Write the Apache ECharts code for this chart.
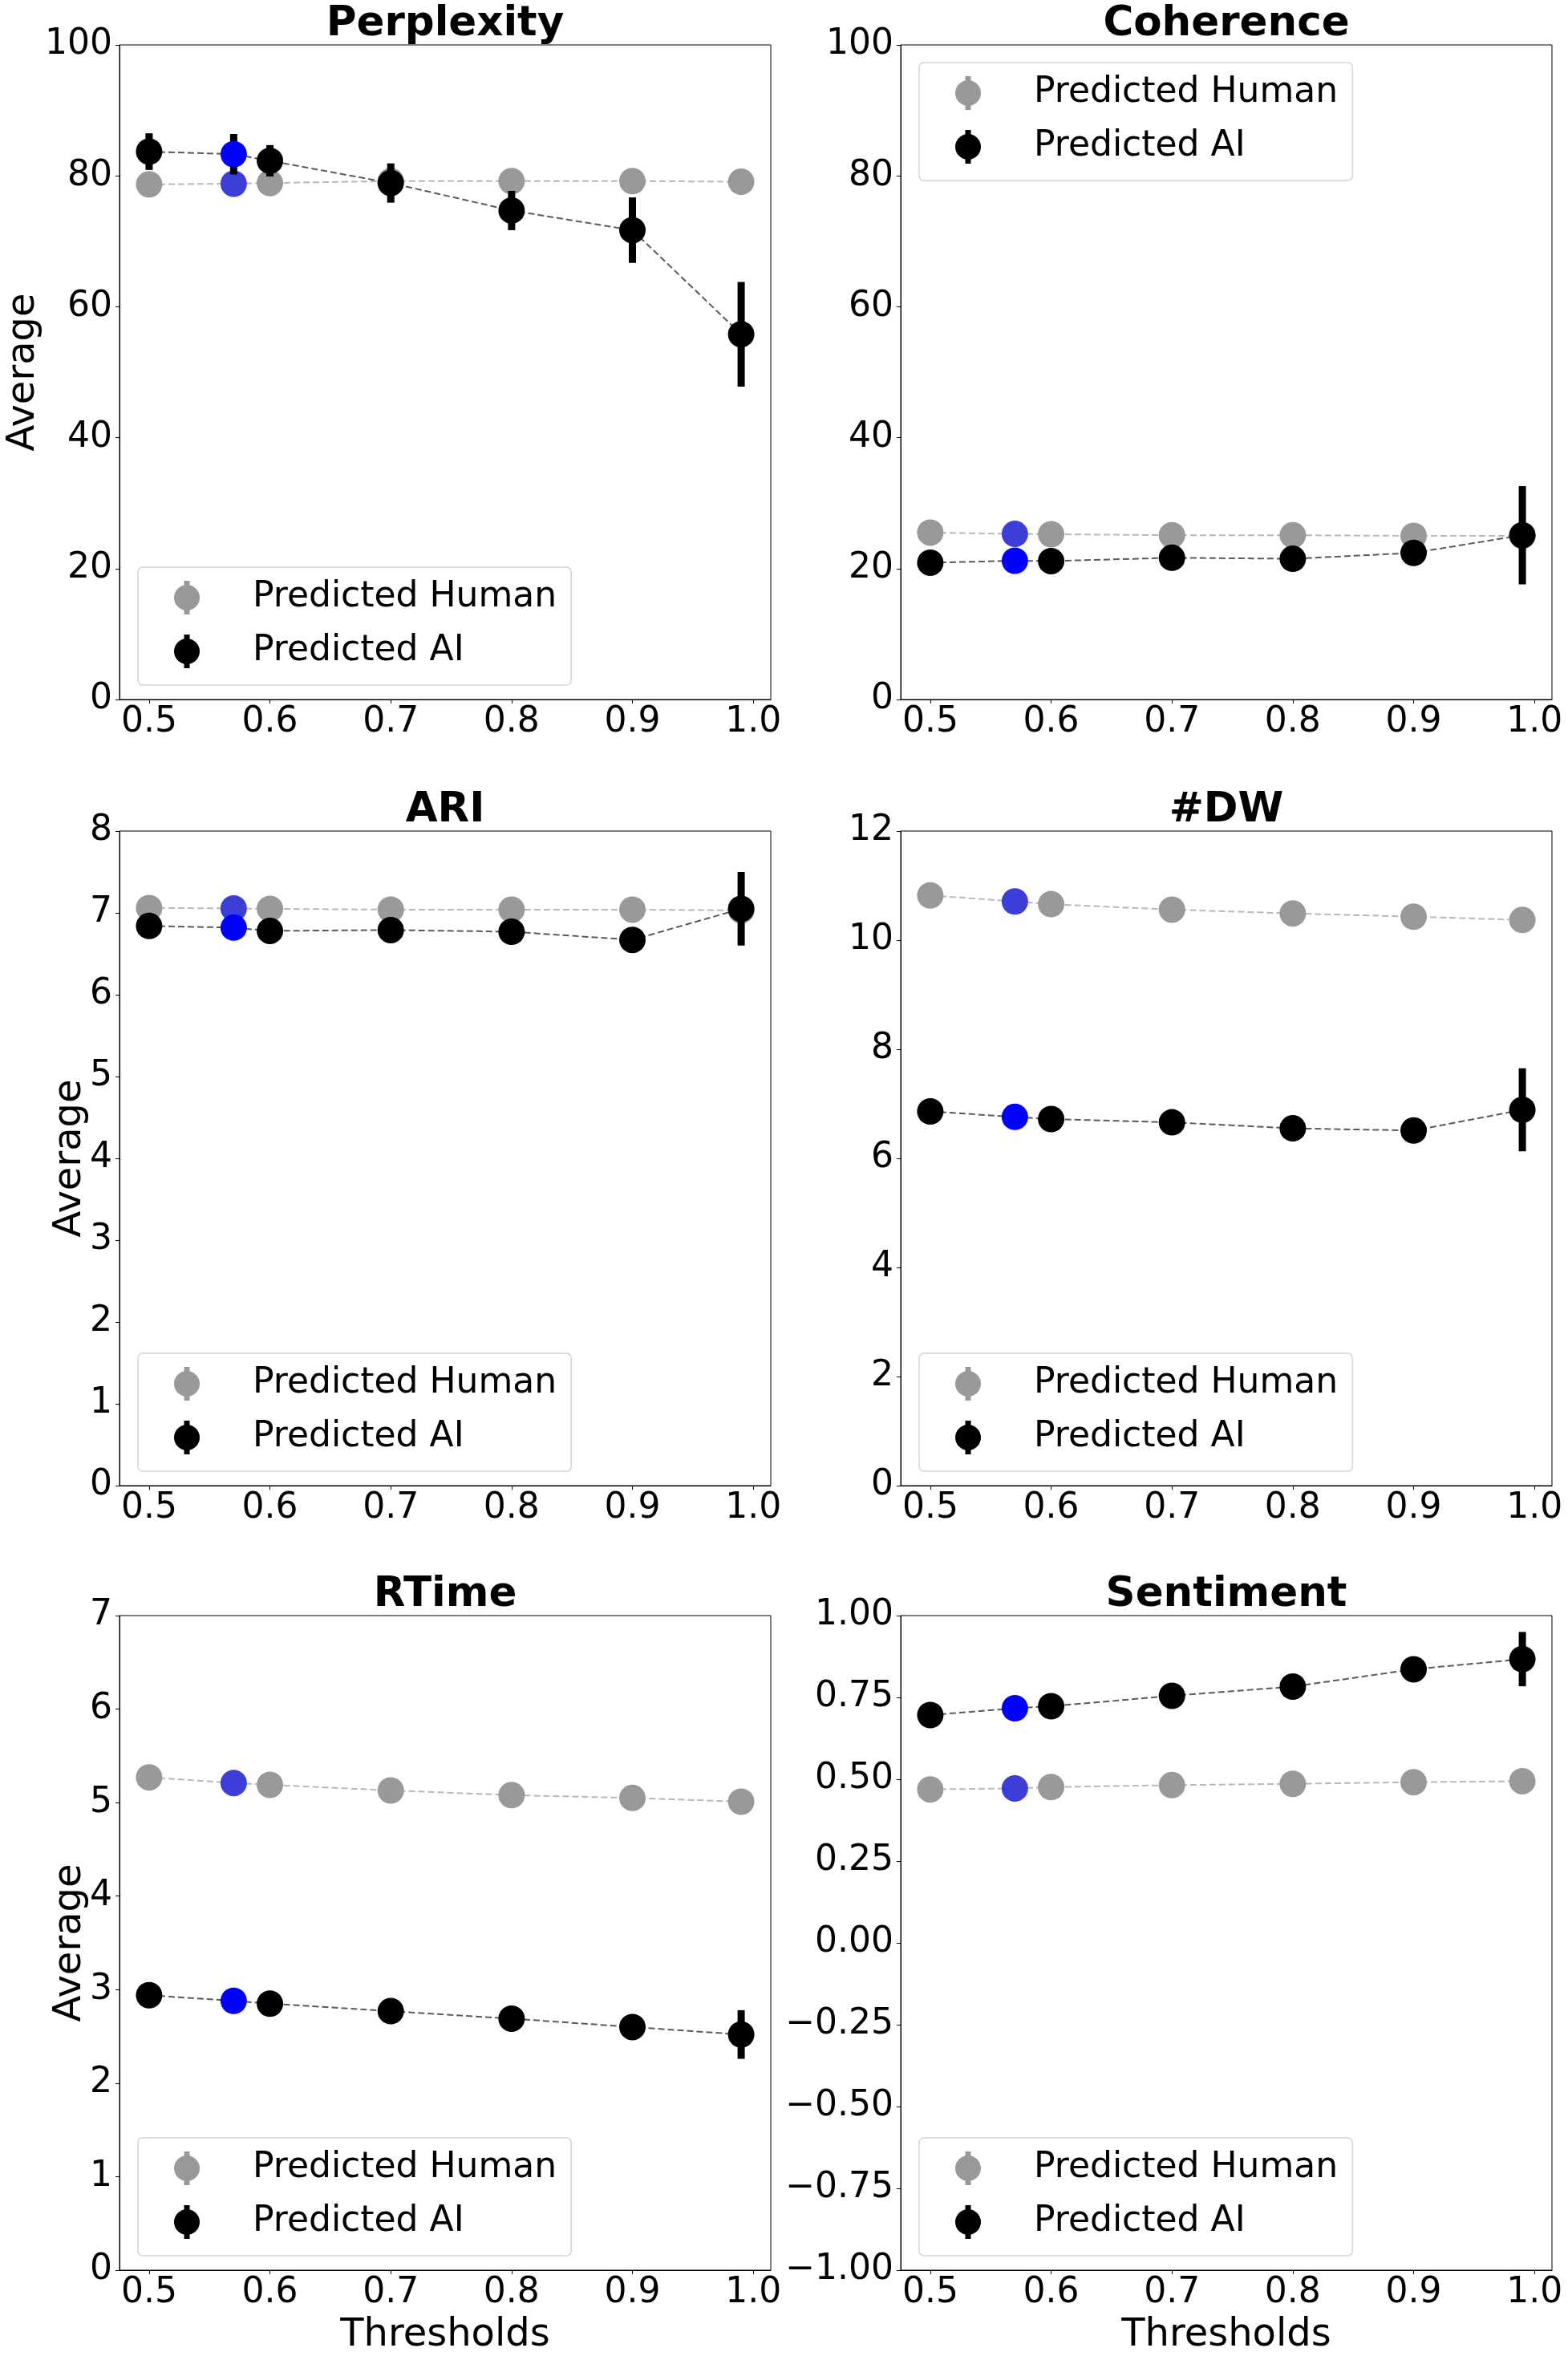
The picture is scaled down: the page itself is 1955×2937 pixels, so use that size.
<!DOCTYPE html>
<html>
<head>
<meta charset="utf-8">
<script src="https://cdn.jsdelivr.net/npm/echarts@6/dist/echarts.min.js"></script>
<style>
html,body{margin:0;padding:0;background:#fff;}
#chart{width:1955px;height:2937px;}
</style>
</head>
<body>
<div id="chart"></div>
<script>
// ---------------- data ----------------
const thresholds = [0.5, 0.57, 0.6, 0.7, 0.8, 0.9, 0.99];
const xTickValues = [0.5, 0.6, 0.7, 0.8, 0.9, 1.0];
const highlightThreshold = 0.57;
const seriesNames = ['Predicted Human', 'Predicted AI'];
const panelTitles = ['Perplexity', 'Coherence', 'ARI', '#DW', 'RTime', 'Sentiment'];

const perplexityHuman    = [78.7, 78.8, 78.9, 79.2, 79.2, 79.2, 79.1];
const perplexityHumanErr = [0.8, 0.8, 0.8, 0.8, 0.9, 1.0, 1.2];
const perplexityAI       = [83.7, 83.3, 82.3, 78.9, 74.7, 71.7, 55.8];
const perplexityAIErr    = [2.8, 3.1, 2.4, 3.0, 3.0, 5.0, 8.0];

const coherenceHuman    = [25.5, 25.3, 25.25, 25.1, 25.1, 25.0, 25.0];
const coherenceHumanErr = [0.4, 0.4, 0.4, 0.4, 0.5, 0.6, 0.8];
const coherenceAI       = [20.9, 21.2, 21.15, 21.65, 21.5, 22.4, 25.1];
const coherenceAIErr    = [0.5, 0.6, 0.6, 0.7, 0.8, 1.2, 7.5];

const ariHuman    = [7.06, 7.055, 7.05, 7.04, 7.04, 7.04, 7.03];
const ariHumanErr = [0.02, 0.02, 0.02, 0.02, 0.03, 0.03, 0.05];
const ariAI       = [6.84, 6.82, 6.78, 6.79, 6.77, 6.67, 7.05];
const ariAIErr    = [0.03, 0.04, 0.04, 0.05, 0.06, 0.10, 0.45];

const dwHuman    = [10.82, 10.71, 10.66, 10.56, 10.49, 10.43, 10.37];
const dwHumanErr = [0.03, 0.03, 0.03, 0.03, 0.04, 0.05, 0.07];
const dwAI       = [6.86, 6.76, 6.72, 6.66, 6.55, 6.51, 6.89];
const dwAIErr    = [0.05, 0.06, 0.06, 0.07, 0.09, 0.14, 0.76];

const rtimeHuman    = [5.27, 5.21, 5.19, 5.13, 5.08, 5.05, 5.01];
const rtimeHumanErr = [0.02, 0.02, 0.02, 0.02, 0.03, 0.03, 0.04];
const rtimeAI       = [2.94, 2.88, 2.85, 2.77, 2.69, 2.60, 2.52];
const rtimeAIErr    = [0.03, 0.03, 0.04, 0.04, 0.05, 0.08, 0.26];

const sentimentHuman    = [0.469, 0.472, 0.476, 0.482, 0.486, 0.491, 0.494];
const sentimentHumanErr = [0.005, 0.005, 0.005, 0.005, 0.006, 0.007, 0.009];
const sentimentAI       = [0.696, 0.717, 0.723, 0.755, 0.783, 0.836, 0.867];
const sentimentAIErr    = [0.008, 0.009, 0.009, 0.011, 0.014, 0.022, 0.083];

const yMins      = [0, 0, 0, 0, 0, -1];
const yMaxs      = [100, 100, 8, 12, 7, 1];
const yIntervals = [20, 20, 1, 2, 1, 0.25];
const legendAtTop = [false, true, false, false, false, false];

const humanValues = [perplexityHuman, coherenceHuman, ariHuman, dwHuman, rtimeHuman, sentimentHuman];
const humanErrors = [perplexityHumanErr, coherenceHumanErr, ariHumanErr, dwHumanErr, rtimeHumanErr, sentimentHumanErr];
const aiValues    = [perplexityAI, coherenceAI, ariAI, dwAI, rtimeAI, sentimentAI];
const aiErrors    = [perplexityAIErr, coherenceAIErr, ariAIErr, dwAIErr, rtimeAIErr, sentimentAIErr];

// ---------------- layout / style ----------------
const FONT = '"DejaVu Sans", Verdana, sans-serif';
const colLeft = [149, 1123];
const rowTop = [56, 1036, 2014];
const gridW = 812, gridH = 816;

const humanColor = '#999999';
const humanHighlight = '#3d3dd8';
const aiColor = '#000000';
const aiHighlight = '#0000ff';
const humanLine = '#b8b8b8';
const aiLine = '#5a5a5a';

// circle with a vertical error bar; two degenerate sub-paths widen the box so the mark sits left of the label gap
const legendIcon = 'path://M-45,0 L-45,0.01 L-44.99,0 Z M77,0 L77,0.01 L76.99,0 Z ' +
  'M-3.5,-21 L3.5,-21 L3.5,21 L-3.5,21 Z M16,0 A16,16 0 1,1 -16,0 A16,16 0 1,1 16,0 Z';

const grids = [], xAxes = [], yAxes = [], titles = [], legends = [], series = [];

function fmtY(v, i) {
  if (i === 5) {
    const s = Math.abs(v).toFixed(2);
    return (v < -1e-9 ? '\u2212' : '') + s;
  }
  return String(Math.round(v));
}

function errRender(color, width) {
  return function (params, api) {
    const x = api.value(0);
    const p1 = api.coord([x, api.value(1)]);
    const p2 = api.coord([x, api.value(2)]);
    return {
      type: 'line',
      shape: { x1: p1[0], y1: p1[1], x2: p2[0], y2: p2[1] },
      style: { stroke: color, lineWidth: width }
    };
  };
}

for (let i = 0; i < 6; i++) {
  const col = i % 2, row = Math.floor(i / 2);
  const left = colLeft[col], top = rowTop[row];
  grids.push({ left: left, top: top, width: gridW, height: gridH, show: true,
               borderColor: '#000', borderWidth: 1, containLabel: false, outerBoundsMode: 'none' });

  xAxes.push({
    type: 'value', gridIndex: i, min: 0.4755, max: 1.0145,
    name: row === 2 ? 'Thresholds' : '',
    nameLocation: 'middle', nameGap: 58, nameMoveOverlap: false,
    nameTextStyle: { fontFamily: FONT, fontSize: 48, color: '#000' },
    axisLine: { show: true, onZero: false, lineStyle: { color: '#000', width: 1 } },
    axisTick: { show: true, length: 5, customValues: xTickValues, lineStyle: { color: '#000' } },
    axisLabel: { show: true, customValues: xTickValues, margin: 7, fontFamily: FONT, fontSize: 44, color: '#000',
                 formatter: v => v.toFixed(1) },
    splitLine: { show: false }
  });

  yAxes.push({
    type: 'value', gridIndex: i, min: yMins[i], max: yMaxs[i], interval: yIntervals[i],
    name: col === 0 ? 'Average' : '',
    nameLocation: 'middle', nameMoveOverlap: false,
    nameGap: row === 0 ? 95 : 37,
    nameTextStyle: { fontFamily: FONT, fontSize: 48, color: '#000' },
    axisLine: { show: true, onZero: false, lineStyle: { color: '#000', width: 1 } },
    axisTick: { show: true, length: 5, lineStyle: { color: '#000' } },
    axisLabel: { show: true, margin: 9, fontFamily: FONT, fontSize: 44, color: '#000',
                 formatter: (v) => fmtY(v, i) },
    splitLine: { show: false }
  });

  titles.push({
    text: panelTitles[i], left: left + gridW / 2, top: top - 51, textAlign: 'center', padding: 0,
    textStyle: { fontFamily: FONT, fontSize: 51.5, fontWeight: 'bold', color: '#000' }
  });

  const legH = 143;
  legends.push({
    data: seriesNames.slice(),
    orient: 'vertical',
    left: left + 23,
    top: legendAtTop[i] ? top + 22 : top + gridH - 22 - legH,
    padding: [16, 18, 20, 16],
    itemGap: 23, itemWidth: 122, itemHeight: 42,
    icon: legendIcon,
    backgroundColor: 'rgba(255,255,255,0.8)',
    borderColor: '#d4d4d4', borderWidth: 1.5, borderRadius: 6,
    selectedMode: false,
    textStyle: { fontFamily: FONT, fontSize: 44, color: '#000', lineHeight: 42 }
  });

  const groups = [
    { name: seriesNames[0], vals: humanValues[i], errs: humanErrors[i], color: humanColor, hi: humanHighlight, line: humanLine, z: 2, ew: 7 },
    { name: seriesNames[1], vals: aiValues[i], errs: aiErrors[i], color: aiColor, hi: aiHighlight, line: aiLine, z: 5, ew: 9 }
  ];
  groups.forEach(g => {
    series.push({
      type: 'line', name: g.name + ' trend', xAxisIndex: i, yAxisIndex: i, z: g.z,
      symbol: 'none', silent: true,
      lineStyle: { color: g.line, width: 2, type: [8, 4] },
      data: thresholds.map((t, k) => [t, g.vals[k]])
    });
    series.push({
      type: 'custom', name: g.name + ' error', xAxisIndex: i, yAxisIndex: i, z: g.z + 1,
      silent: true, clip: false,
      renderItem: errRender(g.color === humanColor ? '#8c8c8c' : '#000', g.ew),
      encode: { x: 0, y: [1, 2] },
      data: thresholds.map((t, k) => [t, g.vals[k] - g.errs[k], g.vals[k] + g.errs[k]])
    });
    series.push({
      type: 'scatter', name: g.name, xAxisIndex: i, yAxisIndex: i, z: g.z + 2,
      symbol: 'circle', symbolSize: 33, silent: true,
      itemStyle: { color: g.color, opacity: 1 },
      data: thresholds.map((t, k) => (t === highlightThreshold
        ? { value: [t, g.vals[k]], itemStyle: { color: g.hi } }
        : [t, g.vals[k]]))
    });
  });
}

const chart = echarts.init(document.getElementById('chart'), null, { renderer: 'canvas' });
chart.setOption({
  animation: false,
  backgroundColor: '#ffffff',
  textStyle: { fontFamily: FONT },
  title: titles,
  legend: legends,
  grid: grids,
  xAxis: xAxes,
  yAxis: yAxes,
  series: series
});
</script>
</body>
</html>
